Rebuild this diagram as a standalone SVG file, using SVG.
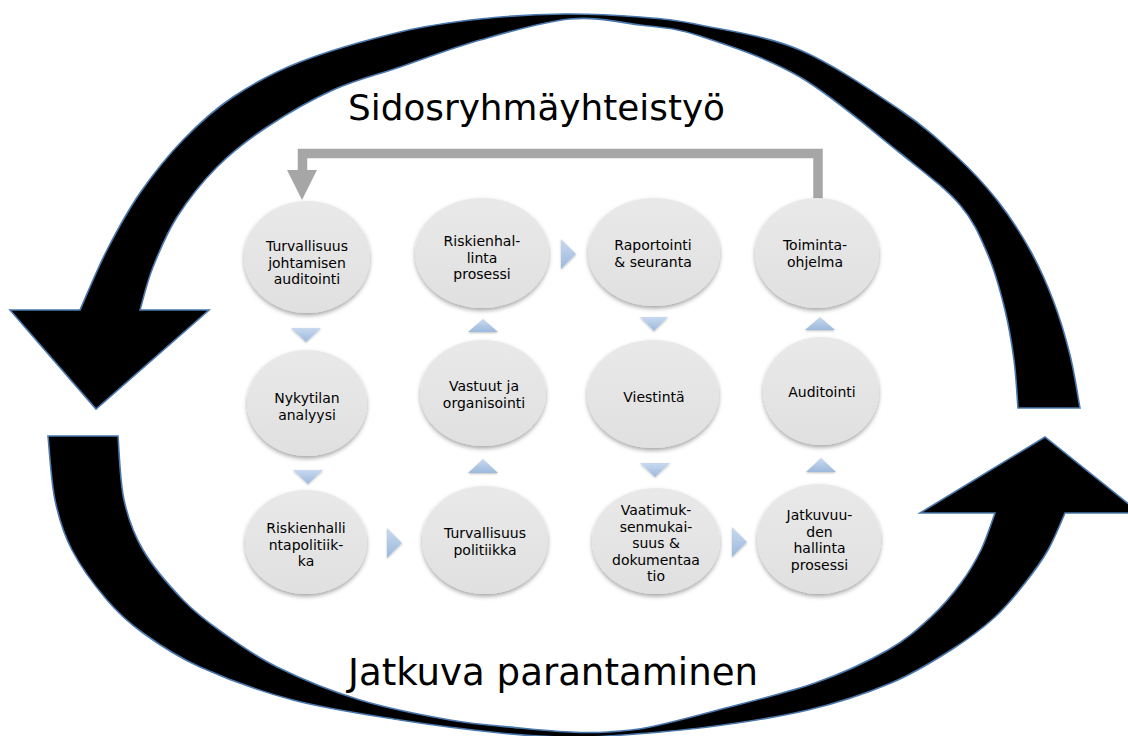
<svg xmlns="http://www.w3.org/2000/svg" width="1128" height="736" viewBox="0 0 1128 736">
<style>
.arc{fill:#000;stroke:#4a78ad;stroke-width:1.6;stroke-linejoin:miter}
.node{fill:url(#nodeGrad);filter:url(#shadow)}
.lbl{font-family:"DejaVu Sans","Liberation Sans",sans-serif;font-size:14px;fill:#000;text-anchor:middle}
.title{font-family:"DejaVu Sans","Liberation Sans",sans-serif;fill:#000}
.tri{fill:url(#triGrad);filter:url(#tshadow)}
.fb{fill:none;stroke:#a6a6a6;stroke-width:9.5;stroke-linejoin:miter}
</style>
<defs>
<linearGradient id="nodeGrad" x1="0" y1="0" x2="0" y2="1">
<stop offset="0" stop-color="#e9e9e9"/>
<stop offset="1" stop-color="#e0e0e0"/>
</linearGradient>
<linearGradient id="triGrad" x1="0" y1="0" x2="0" y2="1">
<stop offset="0" stop-color="#c8d9ef"/>
<stop offset="1" stop-color="#9cb9dc"/>
</linearGradient>
<filter id="shadow" x="-20%" y="-20%" width="140%" height="150%">
<feDropShadow dx="0" dy="2.5" stdDeviation="2" flood-color="#000" flood-opacity="0.35"/>
</filter>
<filter id="tshadow" x="-30%" y="-30%" width="160%" height="180%">
<feDropShadow dx="0" dy="1" stdDeviation="0.8" flood-color="#000" flood-opacity="0.25"/>
</filter>
</defs>

<g id="cycle-arrows">
<path class="arc" d="M 10 310 L 96 409 L 209 310 L 140 310
C 142.2 302.8 146.8 282.5 153 267
C 159.2 251.5 166.3 233.7 177 217
C 187.7 200.3 202 182 217 167
C 232 152 247.7 139.8 267 127
C 286.3 114.2 310.8 100 333 90
C 355.2 80 375.5 75.3 400 67
C 424.5 58.7 451.7 48 480 40
C 508.3 32 543.3 21.5 570 19
C 596.7 16.5 618.3 22.2 640 25
C 661.7 27.8 673.3 27.3 700 36
C 726.7 44.7 766.7 57.5 800 77
C 833.3 96.5 873.3 131.7 900 153
C 926.7 174.3 945.3 188 960 205
C 974.7 222 980.5 237.5 988 255
C 995.5 272.5 1000.7 292.5 1005 310
C 1009.3 327.5 1011.8 343.7 1014 360
C 1016.2 376.3 1017.3 400 1018 408
L 1080 408
C 1078.3 399.2 1074.5 373 1070 355
C 1065.5 337 1059.7 317.5 1053 300
C 1046.3 282.5 1039.3 266.7 1030 250
C 1020.7 233.3 1009.5 215.8 997 200
C 984.5 184.2 971.2 170 955 155
C 938.8 140 925.8 127.5 900 110
C 874.2 92.5 833.3 64.2 800 50
C 766.7 35.8 726.7 30.5 700 25
C 673.3 19.5 662.7 18.8 640 17
C 617.3 15.2 590.7 13.7 564 14
C 537.3 14.3 507.3 16 480 19
C 452.7 22 430 24.8 400 32
C 370 39.2 327.8 51.2 300 62
C 272.2 72.8 252.5 84 233 97
C 213.5 110 198.5 124 183 140
C 167.5 156 152.7 174.7 140 193
C 127.3 211.3 117 230.5 107 250
C 97 269.5 84.5 300 80 310 Z"/>
<path class="arc" d="M 48 436 L 118 436
C 119 446.7 119.8 481 124 500
C 128.2 519 133.2 533.3 143 550
C 152.8 566.7 169.7 586.2 183 600
C 196.3 613.8 207.3 621.8 223 633
C 238.7 644.2 254.2 655.8 277 667
C 299.8 678.2 331.2 691.2 360 700
C 388.8 708.8 423.3 715.3 450 720
C 476.7 724.7 500 726 520 728
C 540 730 555.3 731.3 570 732
C 584.7 732.7 594.7 732.8 608 732
C 621.3 731.2 631.7 730.7 650 727
C 668.3 723.3 690.5 717.3 718 710
C 745.5 702.7 786.7 693 815 683
C 843.3 673 868.7 661 888 650
C 907.3 639 918.8 628.2 931 617
C 943.2 605.8 952.7 594.2 961 583
C 969.3 571.8 975.3 561.7 981 550
C 986.7 538.3 992.7 519.2 995 513
L 920 513 L 1045 437 L 1140 513 L 1065 513
C 1062.2 519.2 1054.7 538.3 1048 550
C 1041.3 561.7 1033.8 571.8 1025 583
C 1016.2 594.2 1007.3 605.8 995 617
C 982.7 628.2 968.3 639 951 650
C 933.7 661 914.8 673 891 683
C 867.2 693 838.5 702.7 808 710
C 777.5 717.3 741.3 722.7 708 727
C 674.7 731.3 632.7 734.3 608 736
C 583.3 737.7 578 737.5 560 737
C 542 736.5 526.7 735.8 500 733
C 473.3 730.2 434.5 725.5 400 720
C 365.5 714.5 326.3 708.8 293 700
C 259.7 691.2 225 678.2 200 667
C 175 655.8 158.5 644.2 143 633
C 127.5 621.8 118.8 613.8 107 600
C 95.2 586.2 80.7 566.7 72 550
C 63.3 533.3 59 519 55 500
C 51 481 49.2 446.7 48 436 Z"/>
</g>

<text class="title" x="348" y="120" font-size="36" textLength="377" lengthAdjust="spacingAndGlyphs">Sidosryhmäyhteistyö</text>
<text class="title" x="348" y="685" font-size="37" textLength="410" lengthAdjust="spacingAndGlyphs">Jatkuva parantaminen</text>

<g id="connectors">
<path class="fb" d="M 818 199 L 818 153.5 L 302.5 153.5 L 302.5 172"/>
<polygon fill="#a6a6a6" points="287,170 317,170 302,200"/>
<polygon class="tri" points="291,328 321,328 306,342"/>
<polygon class="tri" points="293,470 323,470 308,484"/>
<polygon class="tri" points="640,317 668,317 654,331"/>
<polygon class="tri" points="640,463 670,463 655,477"/>
<polygon class="tri" points="483,319 498,332 468,332"/>
<polygon class="tri" points="483,459 498,473 468,473"/>
<polygon class="tri" points="820,317 835,330 805,330"/>
<polygon class="tri" points="821,458 836,472 806,472"/>
<polygon class="tri" points="387,528 402,543 387,558"/>
<polygon class="tri" points="561,239 576,254 561,269"/>
<polygon class="tri" points="732,527 747,542 732,557"/>
</g>

<g id="n1"><ellipse class="node" cx="307" cy="257" rx="63" ry="56"/>
<text class="lbl" x="307" y="251">Turvallisuus<tspan x="307" dy="16.6">johtamisen</tspan><tspan x="307" dy="16.6">auditointi</tspan></text></g>
<g id="n2"><ellipse class="node" cx="482" cy="253" rx="67" ry="55"/>
<text class="lbl" x="482" y="246">Riskienhal-<tspan x="482" dy="16.6">linta</tspan><tspan x="482" dy="16.6">prosessi</tspan></text></g>
<g id="n3"><ellipse class="node" cx="654" cy="252" rx="66" ry="54"/>
<text class="lbl" x="653" y="250">Raportointi<tspan x="653" dy="16.6">&amp; seuranta</tspan></text></g>
<g id="n4"><ellipse class="node" cx="817" cy="253" rx="62" ry="55"/>
<text class="lbl" x="815" y="250">Toiminta-<tspan x="815" dy="16.6">ohjelma</tspan></text></g>
<g id="n5"><ellipse class="node" cx="307" cy="403" rx="60" ry="53"/>
<text class="lbl" x="307" y="403">Nykytilan<tspan x="307" dy="16.6">analyysi</tspan></text></g>
<g id="n6"><ellipse class="node" cx="483" cy="393" rx="63" ry="53"/>
<text class="lbl" x="484" y="391">Vastuut ja<tspan x="484" dy="16.6">organisointi</tspan></text></g>
<g id="n7"><ellipse class="node" cx="306" cy="542" rx="61" ry="52"/>
<text class="lbl" x="306" y="533">Riskienhalli<tspan x="306" dy="16.6">ntapolitiik-</tspan><tspan x="306" dy="16.6">ka</tspan></text></g>
<g id="n8"><ellipse class="node" cx="485" cy="540" rx="63" ry="54"/>
<text class="lbl" x="485" y="538">Turvallisuus<tspan x="485" dy="16.6">politiikka</tspan></text></g>
<g id="n9"><ellipse class="node" cx="653" cy="394" rx="66" ry="54"/>
<text class="lbl" x="654" y="402">Viestintä</text></g>
<g id="n10"><ellipse class="node" cx="821" cy="391" rx="58" ry="54"/>
<text class="lbl" x="822" y="397">Auditointi</text></g>
<g id="n11"><ellipse class="node" cx="656" cy="541" rx="64" ry="53"/>
<text class="lbl" x="656" y="515">Vaatimuk-<tspan x="656" dy="16.6">senmukai-</tspan><tspan x="656" dy="16.6">suus &amp;</tspan><tspan x="656" dy="16.6">dokumentaa</tspan><tspan x="656" dy="16.6">tio</tspan></text></g>
<g id="n12"><ellipse class="node" cx="819" cy="539" rx="62" ry="55"/>
<text class="lbl" x="819.5" y="520">Jatkuvuu-<tspan x="819.5" dy="16.6">den</tspan><tspan x="819.5" dy="16.6">hallinta</tspan><tspan x="819.5" dy="16.6">prosessi</tspan></text></g>
</svg>
